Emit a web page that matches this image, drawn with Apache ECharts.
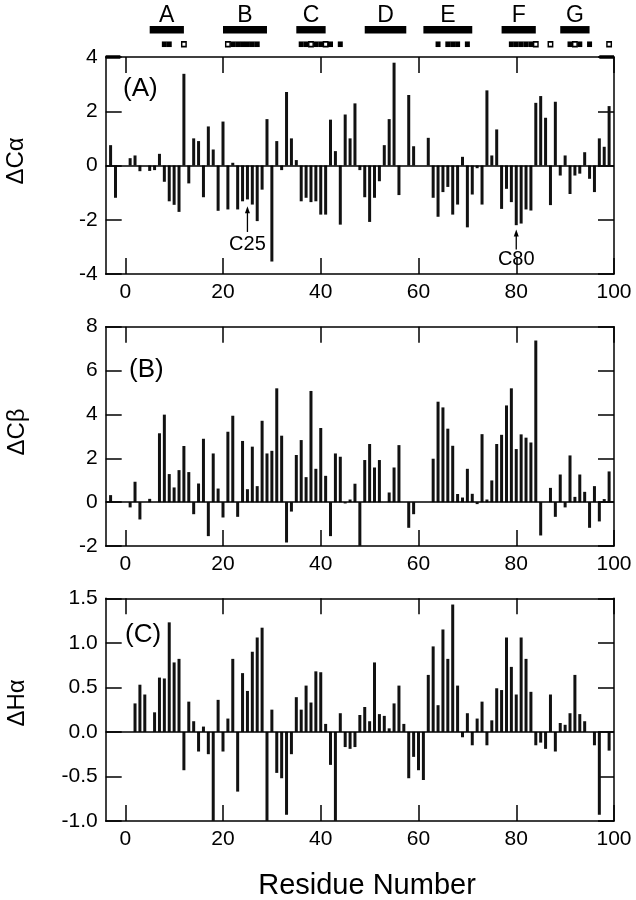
<!DOCTYPE html>
<html><head><meta charset="utf-8">
<script src="https://cdn.jsdelivr.net/npm/echarts@6/dist/echarts.min.js"></script>
<style>html,body{margin:0;padding:0;background:#fff}#c{width:636px;height:900px}</style>
</head><body><div id="c"></div>
<script>
// ---------- data ----------
const residues = [-4,-3,-2,-1,0,1,2,3,4,5,6,7,8,9,10,11,12,13,14,15,16,17,18,19,20,21,22,23,24,25,26,27,28,29,30,31,32,33,34,35,36,37,38,39,40,41,42,43,44,45,46,47,48,49,50,51,52,53,54,55,56,57,58,59,60,61,62,63,64,65,66,67,68,69,70,71,72,73,74,75,76,77,78,79,80,81,82,83,84,85,86,87,88,89,90,91,92,93,94,95,96,97,98,99];
const dCa = [null,0.75,-1.19,null,null,0.27,0.37,-0.21,null,-0.2,-0.17,0.43,-0.6,-1.32,-1.45,-1.71,3.38,-0.66,1.0,0.9,-1.17,1.44,0.59,-1.67,1.62,-1.62,0.1,-1.62,-1.32,-1.25,-1.44,-2.05,-0.89,1.71,-3.54,0.9,-0.17,2.71,1.0,0.2,-1.32,-1.19,-1.35,-1.32,-1.81,-1.81,1.69,0.53,-2.18,1.88,1.0,2.29,-0.17,-1.17,-2.08,-1.19,-0.58,0.75,1.71,3.79,-1.09,null,2.6,0.71,null,null,1.02,-1.19,-1.89,-0.98,-0.79,-1.81,-1.44,0.32,-2.28,-1.07,-0.1,-1.44,2.77,0.37,1.33,-1.6,-0.86,-1.35,-2.2,-2.14,-1.62,-1.66,2.31,2.56,1.76,-1.46,2.35,-0.37,0.37,-1.05,-0.37,-0.3,0.49,-0.49,-0.98,1.0,0.69,2.19];
const dCb = [null,0.32,null,null,null,-0.24,0.93,-0.79,null,0.15,null,3.14,3.99,1.28,0.67,1.46,2.56,1.37,-0.55,0.85,2.89,-1.55,2.22,0.62,-0.7,3.21,3.94,-0.67,2.79,0.59,2.53,0.73,3.71,2.22,2.34,5.19,3.03,-1.84,-0.43,2.15,2.83,1.14,5.07,1.52,3.38,1.2,-1.55,2.22,2.07,-0.06,0.12,0.84,-2.0,1.92,2.65,1.58,1.92,null,0.44,1.58,2.6,null,-1.17,-0.55,null,null,null,1.98,4.58,4.32,3.35,2.57,0.37,0.21,1.52,0.38,-0.09,3.1,0.12,0.99,2.65,3.07,4.41,5.19,2.42,3.09,2.94,2.72,7.37,-1.52,null,0.65,-0.67,1.26,-0.24,2.13,0.24,1.26,0.47,-1.17,0.73,-0.88,0.14,1.4];
const dHa = [null,null,null,null,null,null,0.32,0.53,0.42,null,0.22,0.61,0.6,1.23,0.78,0.82,-0.43,0.34,0.12,-0.22,0.06,-0.25,-1.0,0.36,-0.22,0.15,0.82,-0.67,0.66,0.46,0.9,1.06,1.17,-1.0,0.25,-0.46,-0.52,-0.93,-0.25,0.39,0.25,0.52,0.33,0.68,0.67,0.09,-0.37,-1.0,0.21,-0.17,-0.19,-0.17,0.19,0.28,0.12,0.78,0.2,0.18,0.04,0.32,0.52,0.09,-0.52,-0.28,-0.43,-0.54,0.64,0.96,0.3,1.15,0.82,1.43,0.52,-0.06,0.21,-0.15,0.15,0.34,-0.15,0.13,0.49,0.47,1.06,0.73,0.42,1.06,0.82,0.45,-0.15,-0.12,-0.19,0.42,-0.22,0.1,0.08,0.21,0.64,0.2,0.12,null,-0.15,-0.93,null,-0.21];

const xTicks = [0,20,40,60,80,100];
const yTicksA = [-4,-2,0,2,4];
const yTicksB = [-2,0,2,4,6,8];
const yTicksC = [-1.0,-0.5,0.0,0.5,1.0,1.5];

const helixNames = ['A','B','C','D','E','F','G'];
const helixStart = [5,20,35,49,61,77,89];
const helixEnd   = [12,29,41,57.5,71,84,95];
const filledSquares = [8,9,22,23,24,25,26,27,36,37,39,40,42,44,64,66,67,68,70,79,80,81,82,83,91,93,95];
const openSquares = [12,21,38,41,84,87,92,99];
const cornerMarks = [[-4,-1],[97,100]];

const annRes = [25,80];
const annLabel = ['C25','C80'];
const annHead = [-1.5,-2.36];
const annTail = [-2.45,-3.1];
const annText = [-2.93,-3.45];

// ---------- chart ----------
const FONT = '"Liberation Sans", Arial, Helvetica, sans-serif';
const L = 105.7, R = 22;
const grids = [
  {left:L, right:R, top:57, height:217},
  {left:L, right:R, top:326.7, height:219.3},
  {left:L, right:R, top:598.3, height:222.7},
  {left:L, right:R, top:8, height:43.5}
];
const yDefs = [
  {min:-4, max:4, interval:2, fmt:v=>String(v)},
  {min:-2, max:8, interval:2, fmt:v=>String(v)},
  {min:-1, max:1.5, interval:0.5, fmt:v=>v.toFixed(1)}
];
const lineSt = {color:'#000', width:1.5};
const xAxes = [], yAxes = [];
for (let i=0;i<3;i++){
  xAxes.push({type:'value', gridIndex:i, min:-4, max:100, position:'bottom',
    axisLine:{show:true, onZero:false, lineStyle:lineSt},
    axisTick:{show:true, inside:true, length:16, customValues:xTicks, lineStyle:lineSt},
    axisLabel:{show:true, customValues:xTicks, color:'#000', fontSize:21, fontFamily:FONT, margin:8},
    splitLine:{show:false}});
}
for (let i=0;i<3;i++){
  xAxes.push({type:'value', gridIndex:i, min:-4, max:100, position:'top',
    axisLine:{show:true, onZero:false, lineStyle:lineSt},
    axisTick:{show:true, inside:true, length:16, customValues:xTicks, lineStyle:lineSt},
    axisLabel:{show:false}, splitLine:{show:false}});
}
xAxes.push({type:'value', gridIndex:3, min:-4, max:100, show:false});
for (let i=0;i<3;i++){
  const d = yDefs[i];
  yAxes.push({type:'value', gridIndex:i, min:d.min, max:d.max, interval:d.interval, position:'left',
    axisLine:{show:true, onZero:false, lineStyle:lineSt},
    axisTick:{show:true, inside:true, length:16, lineStyle:lineSt},
    axisLabel:{show:true, color:'#000', fontSize:21, fontFamily:FONT, margin:8, formatter:d.fmt},
    splitLine:{show:false}});
}
for (let i=0;i<3;i++){
  const d = yDefs[i];
  yAxes.push({type:'value', gridIndex:i, min:d.min, max:d.max, interval:d.interval, position:'right',
    axisLine:{show:true, onZero:false, lineStyle:lineSt},
    axisTick:{show:true, inside:true, length:16, lineStyle:lineSt},
    axisLabel:{show:false}, splitLine:{show:false}});
}
yAxes.push({type:'category', gridIndex:3, data:['letter','helix','square'], inverse:true, show:false});

const panels = [dCa, dCb, dHa];
const series = [];
panels.forEach((vals, i) => {
  const data = [];
  residues.forEach((r, k) => { if (vals[k] !== null) data.push([r, vals[k]]); });
  series.push({type:'bar', xAxisIndex:i, yAxisIndex:i, data, barWidth:3,
    itemStyle:{color:'#111'}, silent:true,
    markLine:{silent:true, symbol:['none','none'], label:{show:false},
      lineStyle:{color:'#000', width:1.5, type:'solid'}, data:[{yAxis:0}]}});
});
cornerMarks.forEach(m => {
  series.push({type:'line', xAxisIndex:0, yAxisIndex:0, symbol:'none', clip:false,
    data:[[m[0],4],[m[1],4]], lineStyle:{color:'#000', width:3.5}, silent:true});
});
series.push({type:'custom', xAxisIndex:0, yAxisIndex:0, silent:true, clip:false,
  data: annRes.map((r,i)=>[r, annHead[i], annTail[i], annText[i]]),
  encode:{x:0, y:[1,2,3]},
  renderItem(params, api){
    const r = api.value(0);
    const h = api.coord([r, api.value(1)]), t = api.coord([r, api.value(2)]), tx = api.coord([r, api.value(3)]);
    return {type:'group', children:[
      {type:'line', shape:{x1:h[0], y1:h[1]+5, x2:t[0], y2:t[1]}, style:{stroke:'#000', lineWidth:1.3}},
      {type:'polygon', shape:{points:[[h[0],h[1]],[h[0]-2.5,h[1]+7],[h[0]+2.5,h[1]+7]]}, style:{fill:'#000'}},
      {type:'text', x:tx[0], y:tx[1], style:{text:annLabel[params.dataIndex], font:'20px '+FONT, fill:'#000', align:'center', verticalAlign:'middle'}}
    ]};
  }});
series.push({type:'custom', xAxisIndex:6, yAxisIndex:6, silent:true, clip:false,
  data: helixNames.map((n,i)=>[helixStart[i], helixEnd[i], 1]),
  encode:{x:[0,1], y:2},
  renderItem(params, api){
    const s = api.value(0), e = api.value(1);
    const p1 = api.coord([s, 1]), p2 = api.coord([e, 1]);
    const pl = api.coord([(s+e)/2, 0]);
    return {type:'group', children:[
      {type:'rect', shape:{x:p1[0], y:p1[1]-3.7, width:p2[0]-p1[0], height:7.4}, style:{fill:'#000'}},
      {type:'text', x:pl[0], y:pl[1], style:{text:helixNames[params.dataIndex], font:'23px '+FONT, fill:'#000', align:'center', verticalAlign:'middle'}}
    ]};
  }});
series.push({type:'scatter', xAxisIndex:6, yAxisIndex:6, silent:true, symbol:'rect', symbolSize:[5,5.6],
  data: filledSquares.map(r=>[r,2]), itemStyle:{color:'#000', opacity:1}});
series.push({type:'scatter', xAxisIndex:6, yAxisIndex:6, silent:true, symbol:'rect', symbolSize:[4.4,4.8],
  data: openSquares.map(r=>[r,2]), itemStyle:{color:'#fff', borderColor:'#000', borderWidth:1.5, opacity:1}});

const txt = (text, x, y, size, extra) => Object.assign({type:'text', x, y, silent:true,
  style:{text, font:size+'px '+FONT, fill:'#000', align:'left', verticalAlign:'middle'}}, extra||{});
const graphic = [
  txt('(A)', 123, 89, 26),
  txt('(B)', 129, 370, 26),
  txt('(C)', 125, 635, 26),
  Object.assign(txt('ΔCα', 16, 161, 24), {rotation:Math.PI/2}),
  Object.assign(txt('ΔCβ', 17, 432, 24), {rotation:Math.PI/2}),
  Object.assign(txt('ΔHα', 17, 703, 24), {rotation:Math.PI/2}),
  txt('Residue Number', 367, 886, 29)
];
graphic[3].style.align='center'; graphic[4].style.align='center'; graphic[5].style.align='center'; graphic[6].style.align='center';

const chart = echarts.init(document.getElementById('c'), null, {renderer:'canvas'});
chart.setOption({
  backgroundColor:'#fff', animation:false,
  grid: grids, xAxis: xAxes, yAxis: yAxes, series, graphic
});
</script></body></html>
